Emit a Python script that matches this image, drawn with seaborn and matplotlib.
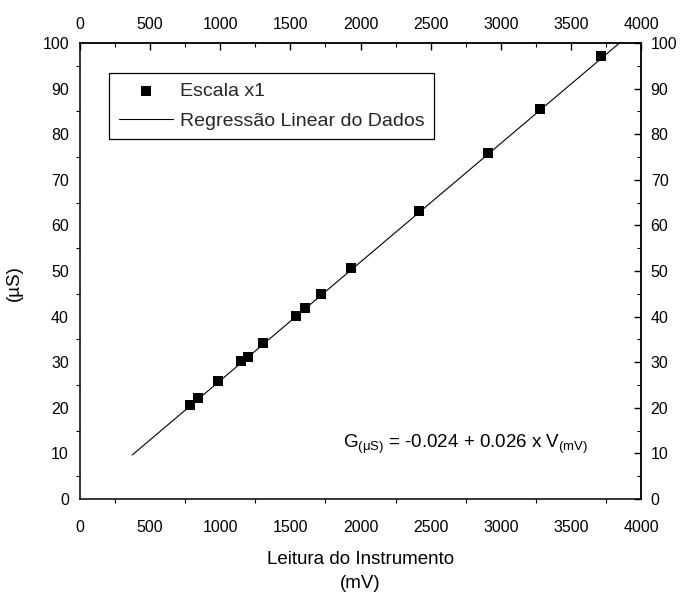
import matplotlib
matplotlib.use("Agg")
import matplotlib.pyplot as plt
import seaborn as sns
import numpy as np
import pandas as pd
from matplotlib.ticker import MultipleLocator

sns.set_theme(style="white")
plt.rcParams['font.family'] = ['Liberation Sans', 'DejaVu Sans']
plt.rcParams['mathtext.fontset'] = 'custom'
plt.rcParams['mathtext.rm'] = 'Liberation Sans'
plt.rcParams['mathtext.it'] = 'Liberation Sans'

# data
leitura_mv = [784, 844, 983, 1149, 1197, 1307, 1537, 1607, 1719, 1934, 2420, 2909, 3277, 3718]
condut_us = [20.6, 22.1, 25.8, 30.2, 31.1, 34.2, 40.2, 41.9, 45.0, 50.6, 63.2, 75.9, 85.6, 97.2]
intercept = -0.024
slope = 0.026
fit_range_mv = [372, 3850]

x_ticks = [0, 500, 1000, 1500, 2000, 2500, 3000, 3500, 4000]
y_ticks = [0, 10, 20, 30, 40, 50, 60, 70, 80, 90, 100]

df = pd.DataFrame({"V": leitura_mv, "G": condut_us})
fit_x = np.array(fit_range_mv, dtype=float)
fit = pd.DataFrame({"V": fit_x, "G": intercept + slope * fit_x})

fig = plt.figure(figsize=(6.8, 5.96), dpi=100)
ax = fig.add_axes([80/680, (596-499)/596, 561/680, 456/596])

sns.lineplot(data=fit, x="V", y="G", ax=ax, color="black", linewidth=0.8,
             label="Regressão Linear do Dados")
sns.scatterplot(data=df, x="V", y="G", ax=ax, marker="s", s=42, color="black",
                edgecolor="black", linewidth=0, label="Escala x1", zorder=3)

TICK_FS = 11.5
ax.set_xlim(0, 4000)
ax.set_ylim(0, 100)
ax.set_xticks(x_ticks)
ax.set_yticks(y_ticks)
ax.xaxis.set_minor_locator(MultipleLocator(250))
ax.yaxis.set_minor_locator(MultipleLocator(5))
ax.tick_params(axis="both", which="major", direction="out", length=5, width=1,
               labelsize=TICK_FS, color="black", labelcolor="black")
ax.tick_params(axis="x", which="major", pad=10)
ax.tick_params(axis="y", which="major", pad=3)
ax.tick_params(axis="both", which="minor", direction="out", length=3, width=0.8,
               color="black", bottom=True, left=True)
for s in ax.spines.values():
    s.set_color("black")
    s.set_linewidth(1.1)

secx = ax.secondary_xaxis("top")
secx.set_xticks(x_ticks)
secx.xaxis.set_minor_locator(MultipleLocator(250))
secx.tick_params(axis="x", which="major", direction="in", length=5, width=1,
                 labelsize=TICK_FS, color="black", labelcolor="black", pad=8)
secx.tick_params(axis="x", which="minor", direction="in", length=3, width=0.8, color="black")
secx.spines["top"].set_linewidth(1.1)

secy = ax.secondary_yaxis("right")
secy.set_yticks(y_ticks)
secy.yaxis.set_minor_locator(MultipleLocator(5))
secy.tick_params(axis="y", which="major", direction="in", length=5, width=1,
                 labelsize=TICK_FS, color="black", labelcolor="black", pad=7)
secy.tick_params(axis="y", which="minor", direction="in", length=3, width=0.8, color="black")
secy.spines["right"].set_linewidth(1.1)

ax.set_xlabel("Leitura do Instrumento\n(mV)", fontsize=13.5, color="black",
              linespacing=1.55)
ax.xaxis.set_label_coords(0.5, -0.113)
ax.set_ylabel("(µS)", fontsize=13.5, color="black")
ax.yaxis.set_label_coords(-0.101, 0.474)

handles, labels = ax.get_legend_handles_labels()
order = [labels.index("Escala x1"), labels.index("Regressão Linear do Dados")]
leg = ax.legend([handles[i] for i in order], [labels[i] for i in order],
                loc="upper left", bbox_to_anchor=(0.052, 0.934), fontsize=14,
                frameon=True, fancybox=False, framealpha=1, edgecolor="black",
                handlelength=2.8, handletextpad=0.35, borderpad=0.5,
                labelspacing=0.6, borderaxespad=0, markerscale=1.0)
leg.get_frame().set_linewidth(0.9)

ax.text(0.468, 0.12,
        r"G$_{(\mu S)}$ = -0.024 + 0.026 x V$_{(mV)}$",
        transform=ax.transAxes, fontsize=13.5, color="black", ha="left", va="center")

fig.savefig("out.png", dpi=100, facecolor="white")
